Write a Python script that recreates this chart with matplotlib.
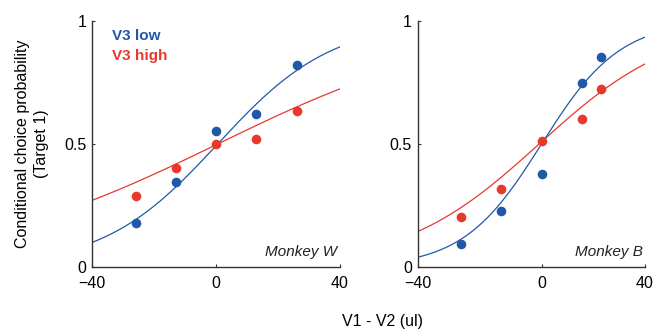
import numpy as np
import matplotlib
matplotlib.use("Agg")
import matplotlib.pyplot as plt

plt.rcParams['font.family'] = ['Liberation Sans', 'DejaVu Sans']

# ---- data ----
x_w = [-26, -13, 0, 13, 26]
low_w = [0.181, 0.347, 0.551, 0.622, 0.821]
high_w = [0.291, 0.402, 0.501, 0.521, 0.634]

x_b = [-26, -13, 0, 13.1, 19.1]
low_b = [0.095, 0.229, 0.380, 0.748, 0.851]
high_b = [0.204, 0.317, 0.511, 0.601, 0.724]

# logistic fit parameters (slope, midpoint)
fit_low_w = (0.0538, 0.5)
fit_high_w = (0.0243, 0.5)
fit_low_b = (0.0787, 0.0)
fit_high_b = (0.0452, -0.8)

panel_names = ["Monkey W", "Monkey B"]
xtick_labels = ["\u221240", "0", "40"]
ytick_vals = [0, 0.5, 1]
ytick_labels = ["0", "0.5", "1"]

BLUE = "#2258a8"
RED = "#e8382c"

fig = plt.figure(figsize=(6.64, 3.31), dpi=100)
ax1 = fig.add_axes([0.139, 0.192, 0.373, 0.746])
ax2 = fig.add_axes([0.629, 0.192, 0.342, 0.746])

def logistic(x, p):
    k, x0 = p
    return 1.0 / (1.0 + np.exp(-k * (x - x0)))

panels = [
    (ax1, x_w, low_w, high_w, fit_low_w, fit_high_w, 40.0, panel_names[0]),
    (ax2, x_b, low_b, high_b, fit_low_b, fit_high_b, 33.3, panel_names[1]),
]

for ax, xs, lo, hi, flo, fhi, xmax, name in panels:
    xx = np.linspace(-40, xmax, 300)
    ax.plot(xx, logistic(xx, fhi), color=RED, lw=0.9, zorder=2)
    ax.plot(xx, logistic(xx, flo), color=BLUE, lw=0.9, zorder=2)
    ax.scatter(xs, lo, s=48, color=BLUE, zorder=3, linewidths=0)
    ax.scatter(xs, hi, s=48, color=RED, zorder=3, linewidths=0)
    ax.set_xlim(-40, xmax)
    ax.set_ylim(0, 1)
    ax.set_xticks([-40, 0, xmax])
    ax.set_xticklabels(xtick_labels)
    ax.set_yticks(ytick_vals)
    ax.set_yticklabels(ytick_labels)
    for s in ["top", "right"]:
        ax.spines[s].set_visible(False)
    for s in ["left", "bottom"]:
        ax.spines[s].set_color("#333333")
        ax.spines[s].set_linewidth(1.0)
    ax.tick_params(direction="in", length=2.5, width=0.8, labelsize=11.5,
                   colors="#333333", labelcolor="black")
    ax.tick_params(axis="x", pad=6.5)
    ax.tick_params(axis="y", pad=4)
    ax.patch.set_alpha(0)
    ax.text(0.99, 0.064, name, transform=ax.transAxes, ha="right", va="center",
            fontsize=11, style="italic", color="#222222")

ax1.text(0.08, 0.938, "V3 low", transform=ax1.transAxes, color=BLUE,
         fontsize=11, fontweight="bold", va="center", ha="left")
ax1.text(0.08, 0.857, "V3 high", transform=ax1.transAxes, color=RED,
         fontsize=11, fontweight="bold", va="center", ha="left")

fig.text(0.048, 0.565, "Conditional choice probability\n(Target 1)", rotation=90,
         ha="center", va="center", fontsize=11.5, linespacing=1.3)
fig.text(0.576, 0.029, "V1 - V2 (ul)", ha="center", va="center", fontsize=11.5)

fig.savefig("out.png", dpi=100)
